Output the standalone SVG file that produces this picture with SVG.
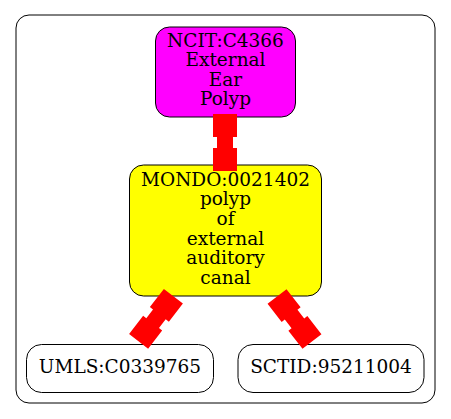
<svg xmlns="http://www.w3.org/2000/svg" width="451" height="419" viewBox="0 0 451 419">
<style>
.node{stroke:#000;stroke-width:1}
.t{font-family:"DejaVu Serif",serif;font-size:18.5px;text-anchor:middle;fill:#000}
.edge{fill:#f00;stroke:none}
</style>
<defs>
<path id="bb" d="M-12,-28.5 H12 V-5.5 H8 V5.5 H12 V28.5 H-12 V5.5 H-8 V-5.5 H-12 Z"/>
</defs>
<rect x="16" y="15" width="419" height="388" rx="13" fill="#fff" stroke="#000" stroke-width="1"/>
<g id="node-ncit">
<rect class="node" x="155.5" y="27" width="140" height="90" rx="14" fill="#ff00ff"/>
<text class="t" x="225.5" y="46.7">NCIT:C4366</text>
<text class="t" x="225.5" y="66.1">External</text>
<text class="t" x="225.5" y="85.5">Ear</text>
<text class="t" x="225.5" y="104.9">Polyp</text>
</g>
<g id="node-mondo">
<rect class="node" x="129.5" y="165" width="192" height="131" rx="14" fill="#ffff00"/>
<text class="t" x="225.5" y="185.5">MONDO:0021402</text>
<text class="t" x="225.5" y="205.3">polyp</text>
<text class="t" x="225.5" y="225">of</text>
<text class="t" x="225.5" y="244.7">external</text>
<text class="t" x="225.5" y="264.4">auditory</text>
<text class="t" x="225.5" y="284">canal</text>
</g>
<g id="node-umls">
<rect class="node" x="26.5" y="344.5" width="187" height="48" rx="15" fill="#fff"/>
<text class="t" x="120" y="373.3">UMLS:C0339765</text>
</g>
<g id="node-sctid">
<rect class="node" x="238" y="344.5" width="186" height="48" rx="15" fill="#fff"/>
<text class="t" x="331" y="373.3">SCTID:95211004</text>
</g>
<g id="edges">
<use href="#bb" class="edge" transform="translate(225,142.5)"/>
<use href="#bb" class="edge" transform="translate(156,318.8) rotate(37.6)"/>
<use href="#bb" class="edge" transform="translate(294.5,319) rotate(-37.8)"/>
</g>
</svg>
